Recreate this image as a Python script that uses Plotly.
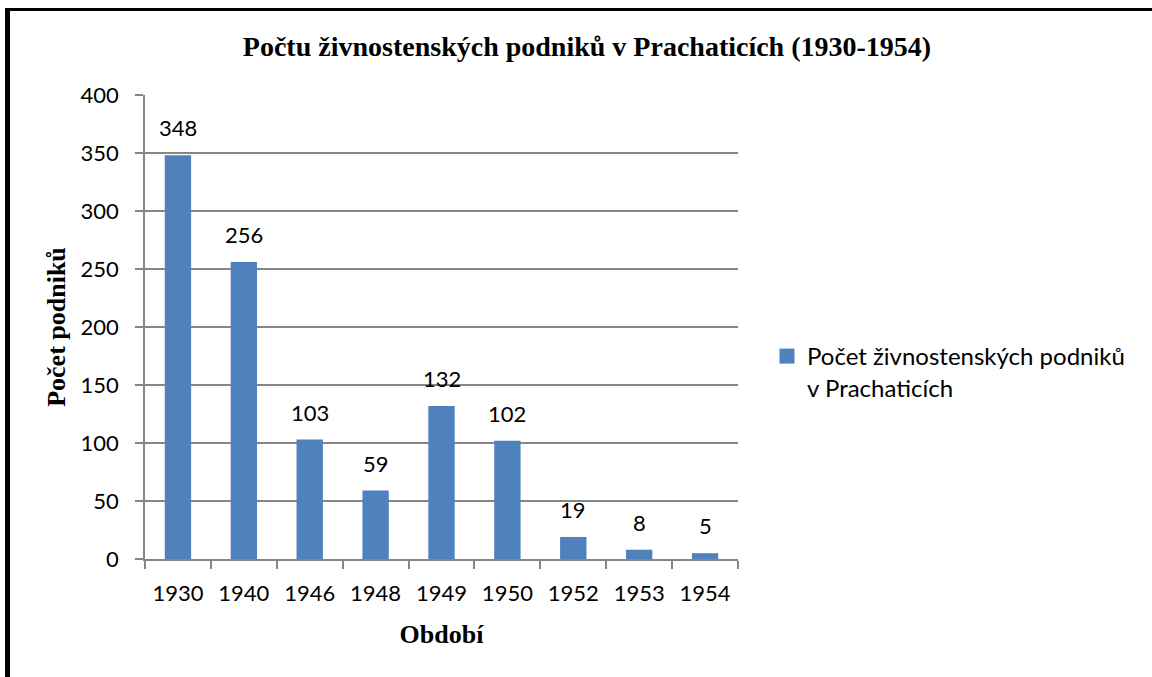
import plotly.graph_objects as go

categories = ["1930", "1940", "1946", "1948", "1949", "1950", "1952", "1953", "1954"]
values = [348, 256, 103, 59, 132, 102, 19, 8, 5]
y_ticks = [0, 50, 100, 150, 200, 250, 300, 350, 400]

title_text = "Počtu živnostenských podniků v Prachaticích (1930-1954)"
series_name = "Počet živnostenských podniků<br>v Prachaticích"
x_title = "Období"
y_title = "Počet podniků"

W, H = 1152, 677
L, R, T, B = 145, 1152 - 738, 95, 677 - 559
pw, ph = W - L - R, H - T - B

BAR = "#4F81BD"
GRID = "#868686"
SANS = "Lato, 'Open Sans', sans-serif"
SERIF = "'Liberation Serif', 'Times New Roman', serif"

fig = go.Figure()
fig.add_trace(go.Bar(
    x=categories, y=values, name=series_name,
    marker=dict(color=BAR, line=dict(width=0)),
    showlegend=False,
))
# legend entry (square swatch of the series colour)
fig.add_trace(go.Scatter(
    x=[None], y=[None], mode="markers", name=series_name,
    marker=dict(symbol="square", size=15, color=BAR),
    showlegend=True, hoverinfo="skip",
))

for i, v in enumerate(values):
    fig.add_annotation(x=i, y=v, text=str(values[i]), showarrow=False,
                       xref="x", yref="y",
                       yanchor="bottom", yshift=12,
                       font=dict(family=SANS, size=22, color="#000000"))

def px_x(p):
    return (p - L) / pw

def px_y(p):
    return 1 - (p - T) / ph

fig.add_shape(type="line", xref="paper", yref="paper",
              x0=px_x(7.5), x1=px_x(7.5), y0=px_y(8), y1=px_y(700),
              line=dict(color="black", width=5))
fig.add_shape(type="line", xref="paper", yref="paper",
              x0=px_x(5), x1=px_x(1160), y0=px_y(9.5), y1=px_y(9.5),
              line=dict(color="black", width=3))

fig.update_layout(
    width=W, height=H,
    margin=dict(l=L, r=R, t=T, b=B),
    paper_bgcolor="white", plot_bgcolor="white",
    bargap=0.6,
    title=dict(text=f"<b>{title_text}</b>", xref="paper", x=px_x(587), xanchor="center",
               y=1 - 46 / H, yanchor="middle",
               font=dict(family=SERIF, size=28, color="#000000")),
    legend=dict(x=1 + (767 - 738) / pw, xanchor="left", y=px_y(334), yanchor="top",
                valign="top",
                font=dict(family=SANS, size=24, color="#000000"),
                bgcolor="rgba(0,0,0,0)"),
    xaxis=dict(
        type="category", range=[-0.5, len(categories) - 0.5],
        showline=True, linecolor=GRID, linewidth=1.5,
        ticks="outside", ticklen=8, tickcolor=GRID, tickwidth=1.5,
        tickson="boundaries", tickangle=0,
        ticklabelstandoff=14,
        tickfont=dict(family=SANS, size=22, color="#000000"),
        title=dict(text=f"<b>{x_title}</b>", standoff=20,
                   font=dict(family=SERIF, size=26, color="#000000")),
        showgrid=False,
    ),
    yaxis=dict(
        range=[0, 400], tickvals=y_ticks,
        showline=True, linecolor=GRID, linewidth=1.5,
        ticks="outside", ticklen=8, tickcolor=GRID, tickwidth=1.5,
        showgrid=True, gridcolor=GRID, gridwidth=1.5,
        zeroline=False,
        ticklabelstandoff=12,
        tickfont=dict(family=SANS, size=22, color="#000000"),
        title=dict(text=f"<b>{y_title}</b>", standoff=7,
                   font=dict(family=SERIF, size=26, color="#000000")),
    ),
)

fig.write_html("out.html", config={"displayModeBar": False},
               post_script="document.body.style.margin='0';document.body.style.padding='0';")
